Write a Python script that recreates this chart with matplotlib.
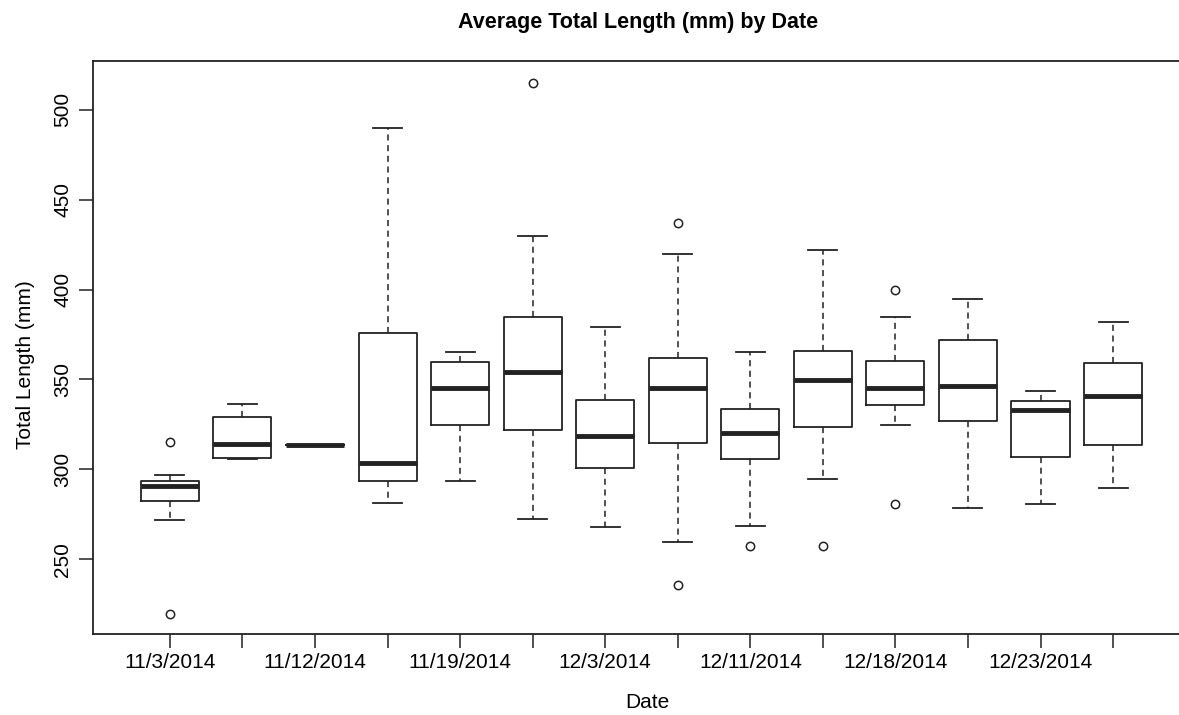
import numpy as np
import matplotlib
matplotlib.use("Agg")
import matplotlib.pyplot as plt

plt.rcParams['font.family'] = ['Liberation Sans', 'DejaVu Sans']

# dates shown on the axis (R drops every other label when they crowd)
date_labels = ['11/3/2014', '', '11/12/2014', '', '11/19/2014', '', '12/3/2014',
               '', '12/11/2014', '', '12/18/2014', '', '12/23/2014', '']

# box stats (mm)
whis_lo = [271.9, 306.0, 313.6, 281.5, 293.7, 272.4, 268.0, 259.6, 268.5, 294.8, 324.5, 278.7, 280.9, 289.7]
q1      = [282.6, 306.5, 313.6, 293.7, 324.7, 321.9, 300.8, 314.9, 305.8, 323.8, 336.0, 327.1, 306.7, 313.6]
median  = [290.6, 314.3, 313.6, 303.4, 345.1, 354.0, 318.7, 345.1, 320.1, 349.6, 345.1, 346.2, 332.9, 340.7]
q3      = [293.7, 329.0, 313.6, 376.0, 359.9, 384.9, 338.8, 361.8, 333.6, 365.7, 360.5, 372.0, 338.0, 359.0]
whis_hi = [296.9, 336.2, 313.6, 489.9, 365.1, 430.0, 379.2, 419.8, 365.1, 422.0, 384.9, 394.8, 343.8, 381.8]
outliers = [[315.4, 219.6], [], [], [], [], [514.9], [], [437.0, 235.9],
            [257.6], [257.6], [399.8, 280.8], [], [], []]

stats = []
for i in range(len(median)):
    stats.append(dict(med=median[i], q1=q1[i], q3=q3[i],
                      whislo=whis_lo[i], whishi=whis_hi[i], fliers=outliers[i]))

fig = plt.figure(figsize=(11.79, 7.15), dpi=100)
ax = fig.add_axes([0.0789, 0.1133, 0.9304, 0.8014])

pos = np.arange(1, len(stats) + 1)
ax.bxp(stats, positions=pos, widths=0.8,
       boxprops=dict(color='#222222', linewidth=1.3),
       medianprops=dict(color='#222222', linewidth=3.5, solid_capstyle='butt'),
       whiskerprops=dict(color='#222222', linewidth=1.1, linestyle=(0, (4, 3))),
       capprops=dict(color='#222222', linewidth=1.3),
       capwidths=0.4,
       flierprops=dict(marker='o', markerfacecolor='none', markeredgecolor='#222222',
                       markersize=6, markeredgewidth=1.1))

ax.set_xlim(-0.06, 15.06)
ax.set_ylim(208.4, 527.1)
ax.set_xticks(pos)
ax.set_xticklabels(date_labels, fontsize=15)
ax.set_yticks([250, 300, 350, 400, 450, 500])
ax.set_yticklabels(['250', '300', '350', '400', '450', '500'], fontsize=15,
                   rotation=90, va='center')
ax.tick_params(axis='both', direction='out', length=10, width=1.1, color='#222222')
ax.tick_params(axis='x', pad=4)
ax.tick_params(axis='y', pad=5)
for s in ax.spines.values():
    s.set_linewidth(1.3)
    s.set_color('#222222')

ax.set_xlabel('Date', fontsize=15)
ax.xaxis.set_label_coords(0.505, -0.103)
ax.set_ylabel('Total Length (mm)', fontsize=15)
ax.yaxis.set_label_coords(-0.053, 0.47)
fig.text(0.541, 0.969, 'Average Total Length (mm) by Date', ha='center', va='center',
         fontsize=15.5, fontweight='bold')

fig.savefig('out.png', dpi=100)
